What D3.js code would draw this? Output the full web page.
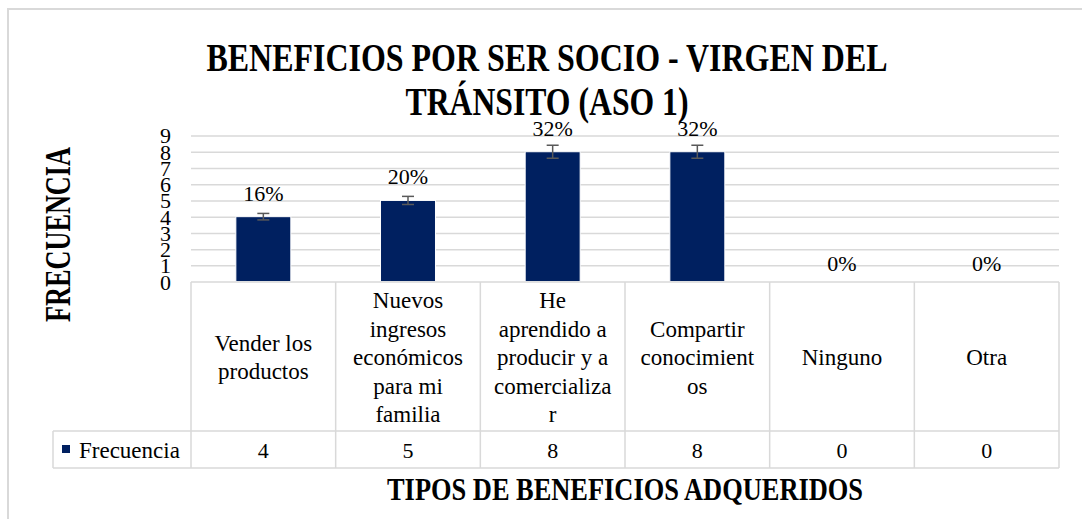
<!DOCTYPE html>
<html>
<head>
<meta charset="utf-8">
<script src="https://cdn.jsdelivr.net/npm/d3@7"></script>
</head>
<body style="margin:0; background:#fff">
<svg id="chart" width="1082" height="519"></svg>
<script>
// data
var categories = ["Vender los productos", "Nuevos ingresos económicos para mi familia",
  "He aprendido a producir y a comercializar", "Compartir conocimientos", "Ninguno", "Otra"];
var catLines = [
  ["Vender los", "productos"],
  ["Nuevos", "ingresos", "económicos", "para mi", "familia"],
  ["He", "aprendido a", "producir y a", "comercializa", "r"],
  ["Compartir", "conocimient", "os"],
  ["Ninguno"],
  ["Otra"]
];
var frecuencia = [4, 5, 8, 8, 0, 0];
var yTicks = [0, 1, 2, 3, 4, 5, 6, 7, 8, 9];
var seriesName = "Frecuencia";
var titleLines = ["BENEFICIOS POR SER SOCIO - VIRGEN DEL", "TRÁNSITO (ASO 1)"];
var xTitle = "TIPOS DE BENEFICIOS ADQUERIDOS";
var yTitle = "FRECUENCIA";
var errPct = 0.05;

var total = d3.sum(frecuencia);
var svg = d3.select("#chart");
var gridColor = "#d9d9d9";
var barColor = "#002060";

// outer frame (only top and left are visible)
svg.append("rect")
  .attr("x", 8).attr("y", 9).attr("width", 1200).attr("height", 700)
  .attr("fill", "none").attr("stroke", gridColor).attr("stroke-width", 2);

var x = d3.scaleBand()
  .domain(categories)
  .range([191, 1059])
  .padding(0);

var y = d3.scaleLinear()
  .domain([0, 9])
  .range([281.6, 135.5]);

// gridlines
svg.append("g")
  .attr("transform", "translate(191,0)")
  .call(d3.axisLeft(y).tickValues(yTicks.slice(1)).tickSize(-(1059 - 191)).tickFormat(""))
  .call(g => g.select(".domain").remove())
  .selectAll("line").attr("stroke", gridColor).attr("stroke-width", 1.5);

// y tick labels
svg.append("g")
  .attr("transform", "translate(171,0)")
  .call(d3.axisLeft(y).tickValues(yTicks).tickSize(0).tickPadding(0))
  .call(g => g.select(".domain").remove())
  .selectAll("text")
    .style("font-size", "22px")
    .attr("dy", "0.34em");

// bars
var barW = x.bandwidth() * 0.38;
svg.selectAll("rect.bar")
  .data(frecuencia)
  .enter()
  .append("rect")
  .attr("class", "bar")
  .attr("x", (d, i) => x(categories[i]) + (x.bandwidth() - barW) / 2)
  .attr("y", d => y(d))
  .attr("width", barW)
  .attr("height", d => y(0) - y(d))
  .attr("fill", barColor)
  .attr("stroke", d => d > 0 ? "#fff" : "none")
  .attr("stroke-width", 1);

// error bars (5%)
var err = svg.selectAll("g.err")
  .data(frecuencia.map((d, i) => ({v: d, c: categories[i]})).filter(d => d.v > 0))
  .enter()
  .append("g")
  .attr("class", "err")
  .attr("stroke", "#595959")
  .attr("stroke-width", 1.5);
err.append("line")
  .attr("x1", d => x(d.c) + x.bandwidth() / 2).attr("x2", d => x(d.c) + x.bandwidth() / 2)
  .attr("y1", d => y(d.v * (1 + errPct))).attr("y2", d => y(d.v * (1 - errPct)));
err.append("line")
  .attr("x1", d => x(d.c) + x.bandwidth() / 2 - 6).attr("x2", d => x(d.c) + x.bandwidth() / 2 + 6)
  .attr("y1", d => y(d.v * (1 + errPct))).attr("y2", d => y(d.v * (1 + errPct)));
err.append("line")
  .attr("x1", d => x(d.c) + x.bandwidth() / 2 - 6).attr("x2", d => x(d.c) + x.bandwidth() / 2 + 6)
  .attr("y1", d => y(d.v * (1 - errPct))).attr("y2", d => y(d.v * (1 - errPct)));

// percentage labels
svg.selectAll("text.pct")
  .data(frecuencia)
  .enter()
  .append("text")
  .attr("class", "pct")
  .attr("x", (d, i) => x(categories[i]) + x.bandwidth() / 2)
  .attr("y", d => y(d) - (d > 0 ? 16 : 11))
  .attr("text-anchor", "middle")
  .style("font-size", "22px")
  .text(d => d3.format(".0%")(d / total));

// data table
var table = svg.append("g")
  .attr("stroke", gridColor)
  .attr("stroke-width", 1.5);
table.append("line").attr("x1", 191).attr("x2", 1059).attr("y1", 282).attr("y2", 282);
table.append("line").attr("x1", 53).attr("x2", 1059).attr("y1", 431).attr("y2", 431);
table.append("line").attr("x1", 53).attr("x2", 1059).attr("y1", 468).attr("y2", 468);
table.append("line").attr("x1", 53).attr("x2", 53).attr("y1", 431).attr("y2", 468);
table.selectAll("line.col")
  .data(categories.concat(["end"]))
  .enter()
  .append("line")
  .attr("x1", (d, i) => i < categories.length ? x(d) : x.range()[1])
  .attr("x2", (d, i) => i < categories.length ? x(d) : x.range()[1])
  .attr("y1", 282).attr("y2", 468);

// category labels
var lineH = 28.5;
svg.selectAll("text.cat")
  .data(catLines)
  .enter()
  .append("text")
  .attr("class", "cat")
  .attr("text-anchor", "middle")
  .style("font-size", "23px")
  .each(function(lines, i) {
    var cx = x(categories[i]) + x.bandwidth() / 2;
    var top = 357 - (lines.length - 1) / 2 * lineH + 8;
    d3.select(this).selectAll("tspan")
      .data(lines)
      .enter()
      .append("tspan")
      .attr("x", cx)
      .attr("y", (l, j) => top + j * lineH)
      .text(l => l);
  });

// legend row
svg.append("rect")
  .attr("x", 62).attr("y", 445).attr("width", 8).attr("height", 8)
  .attr("fill", barColor);
svg.append("text")
  .attr("x", 79).attr("y", 458)
  .style("font-size", "23px")
  .text(seriesName);
svg.selectAll("text.val")
  .data(frecuencia)
  .enter()
  .append("text")
  .attr("class", "val")
  .attr("x", (d, i) => x(categories[i]) + x.bandwidth() / 2)
  .attr("y", 458)
  .attr("text-anchor", "middle")
  .style("font-size", "22px")
  .text(d => d);

// titles
var titleLen = [681, 283];
svg.selectAll("text.title")
  .data(titleLines)
  .enter()
  .append("text")
  .attr("class", "title")
  .attr("x", 547)
  .attr("y", (d, i) => 71 + i * 44)
  .attr("text-anchor", "middle")
  .attr("textLength", (d, i) => titleLen[i])
  .attr("lengthAdjust", "spacingAndGlyphs")
  .style("font-size", "39px")
  .style("font-weight", "bold")
  .text(d => d);

svg.append("text")
  .attr("x", 625)
  .attr("y", 500)
  .attr("text-anchor", "middle")
  .attr("textLength", 476)
  .attr("lengthAdjust", "spacingAndGlyphs")
  .style("font-size", "31px")
  .style("font-weight", "bold")
  .text(xTitle);

svg.append("text")
  .attr("transform", "translate(70,234.5) rotate(-90)")
  .attr("text-anchor", "middle")
  .attr("textLength", 175)
  .attr("lengthAdjust", "spacingAndGlyphs")
  .style("font-size", "35px")
  .style("font-weight", "bold")
  .text(yTitle);

// serif everywhere, set inline so the axis defaults don't win
svg.selectAll("text")
  .style("font-family", "'Liberation Serif'")
  .attr("fill", "#000");
</script>
</body>
</html>
